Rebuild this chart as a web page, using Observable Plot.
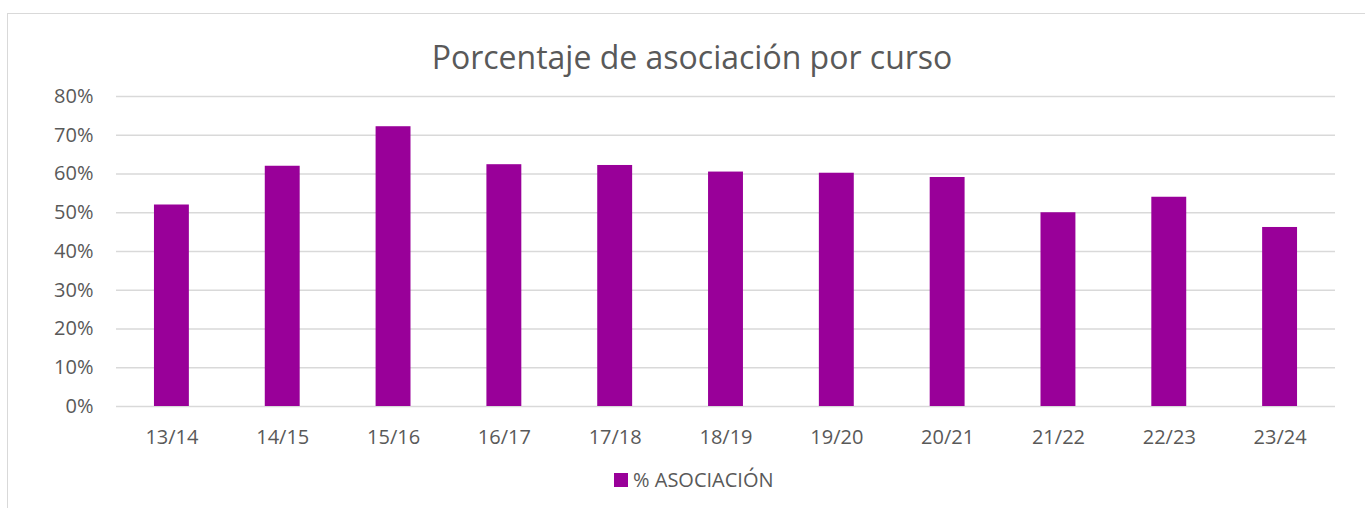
<!DOCTYPE html>
<html>
<head>
<meta charset="utf-8">
<script src="https://cdn.jsdelivr.net/npm/d3@7"></script>
<script src="https://cdn.jsdelivr.net/npm/@observablehq/plot@0.6"></script>
<style>
  html, body { margin: 0; padding: 0; background: #fff; width: 1365px; height: 508px; overflow: hidden; }
  body { position: relative; font-family: "Open Sans", sans-serif; color: #595959; }
  #frame { position: absolute; left: 7px; top: 13px; width: 1400px; height: 600px; border-left: 1.5px solid #d9d9d9; border-top: 1.5px solid #d9d9d9; box-sizing: border-box; }
  #title { position: absolute; left: 0; width: 1384px; top: 40.6px; text-align: center; font-size: 32px; line-height: 32px; white-space: nowrap; }
  #chart { position: absolute; left: 0; top: 76px; }
  #legend { position: absolute; left: 614px; top: 469px; height: 22px; display: flex; align-items: center; font-size: 20px; line-height: 22px; white-space: nowrap; }
  #legend .sw { width: 14px; height: 14px; background: #990099; margin-right: 5px; }
</style>
</head>
<body>
<div id="frame"></div>
<div id="title">Porcentaje de asociación por curso</div>
<div id="chart"></div>
<div id="legend"><span class="sw"></span><span>% ASOCIACIÓN</span></div>
<script>
const cursos = ["13/14", "14/15", "15/16", "16/17", "17/18", "18/19", "19/20", "20/21", "21/22", "22/23", "23/24"];
const asociacion = [52.0, 62.0, 72.2, 62.4, 62.2, 60.5, 60.2, 59.1, 50.0, 54.0, 46.2];
const yTicks = [0, 10, 20, 30, 40, 50, 60, 70, 80];

const data = cursos.map((c, i) => ({curso: c, valor: asociacion[i]}));

const chart = Plot.plot({
  width: 1365,
  height: 384,
  marginLeft: 116,
  marginRight: 30,
  marginTop: 20,
  marginBottom: 54,
  style: {fontFamily: "'Open Sans', sans-serif", fontSize: "20px", color: "#595959", background: "transparent", overflow: "visible"},
  x: {domain: cursos, paddingInner: 0.685, paddingOuter: 0.3425, round: false, label: null},
  y: {domain: [0, 80], label: null},
  marks: [
    Plot.ruleY(yTicks, {stroke: "#d9d9d9", strokeWidth: 1.3}),
    Plot.barY(data, {x: "curso", y: "valor", fill: "#990099"}),
    Plot.axisY(yTicks, {tickSize: 0, tickPadding: 23, tickFormat: d => d + "%", label: null}),
    Plot.axisX({tickSize: 0, tickPadding: 23, label: null})
  ]
});
document.getElementById("chart").appendChild(chart);
</script>
</body>
</html>
